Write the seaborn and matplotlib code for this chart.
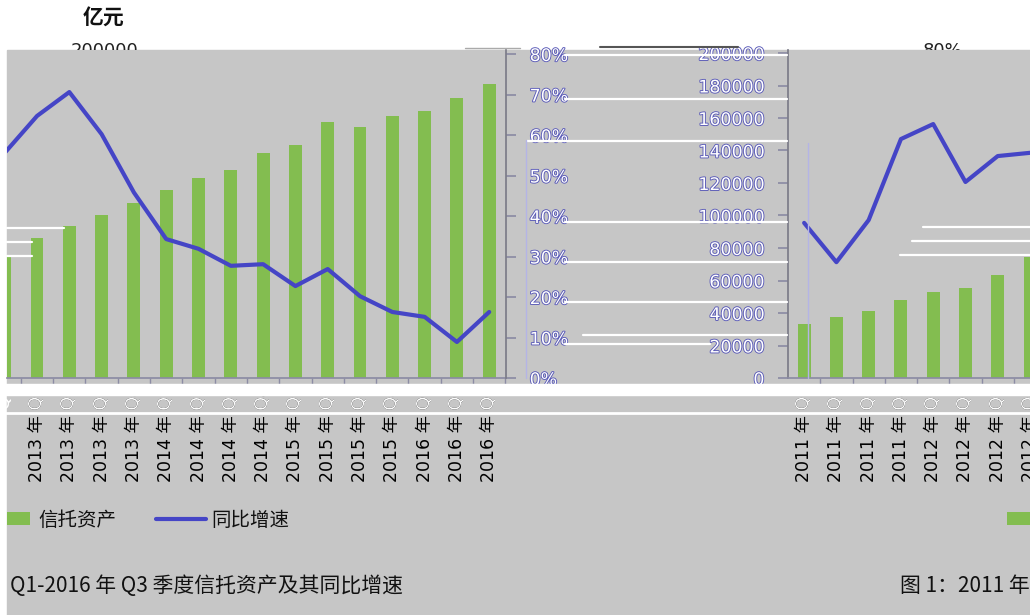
import numpy as np
import pandas as pd
import seaborn as sns
import matplotlib.pyplot as plt
import matplotlib.patheffects as pe
from matplotlib.lines import Line2D
from matplotlib.patches import Rectangle
from matplotlib.transforms import Bbox, offset_copy
from matplotlib.legend_handler import HandlerPatch

# ---- data ----
quarters = [
    "2011 年 Q1", "2011 年 Q2", "2011 年 Q3", "2011 年 Q4",
    "2012 年 Q1", "2012 年 Q2", "2012 年 Q3", "2012 年 Q4",
    "2013 年 Q1", "2013 年 Q2", "2013 年 Q3", "2013 年 Q4",
    "2014 年 Q1", "2014 年 Q2", "2014 年 Q3", "2014 年 Q4",
    "2015 年 Q1", "2015 年 Q2", "2015 年 Q3", "2015 年 Q4",
    "2016 年 Q1", "2016 年 Q2", "2016 年 Q3",
]
trust_assets = [33200, 37500, 41200, 48000, 52900, 55400, 63400, 74200,
                86200, 93500, 100300, 107700, 115700, 123100, 128000, 138500,
                143400, 157500, 154500, 161200, 164300, 172300, 180900]
yoy_growth = [38.3, 28.6, 39.0, 59.0, 62.7, 48.4, 54.8, 55.6,
              64.7, 70.6, 60.2, 45.8, 34.3, 31.9, 27.7, 28.1,
              22.7, 26.9, 20.2, 16.3, 15.1, 8.9, 16.3]
amount_ticks = [0, 20000, 40000, 60000, 80000, 100000,
                120000, 140000, 160000, 180000, 200000]
pct_ticks = [0, 10, 20, 30, 40, 50, 60, 70, 80]

W, H = 1030, 615
GRAY = "#c6c6c6"
GREEN = "#83bd50"
BLUE = "#4545c6"
SPINE = "#8c8ca4"
CJK = ["Noto Sans CJK SC", "DejaVu Sans"]
TICK_FS = 12.5
TICK_PAD = 5

sns.set_theme(style="white")
plt.rcParams["font.family"] = ["DejaVu Sans", "Noto Sans CJK SC"]


def fx(px):
    return px / W


def fy(py):
    return 1 - py / H


def hline(x0, x1, y, color="white", lw=1.6, z=6):
    fig.add_artist(Line2D([fx(x0), fx(x1)], [fy(y), fy(y)], transform=fig.transFigure,
                          color=color, lw=lw, zorder=z))


df = pd.DataFrame({"quarter": quarters, "assets": trust_assets, "growth": yoy_growth})
amount_top = 328 / 32.5 * 20000
pct_top = 328 / 40.5 * 10

fig = plt.figure(figsize=(W / 100, H / 100), dpi=100, facecolor="white")
fig.add_artist(Rectangle((fx(7), 0), 1 - fx(7), fy(50), transform=fig.transFigure,
                         color=GRAY, zorder=-10))

label_style = dict(color="white", fontsize=12.5,
                   path_effects=[pe.withStroke(linewidth=1.3, foreground="#5a5ab8")])


def panel(x0, x1, data, xlim, side):
    ax = fig.add_axes([fx(x0), fy(378), (x1 - x0) / W, 328 / H])
    sns.barplot(data=data, x="quarter", y="assets", color=GREEN, saturation=1,
                width=0.4, linewidth=0, ax=ax)
    ax.set_facecolor(GRAY)
    axp = ax.twinx()
    sns.lineplot(x=np.arange(len(data)), y=data["growth"].values, color=BLUE,
                 lw=3, ax=axp)
    for a in (ax, axp):
        a.set_xlabel("")
        a.set_ylabel("")
        for s in a.spines.values():
            s.set_visible(False)
    ax.set_ylim(0, amount_top)
    axp.set_ylim(0, pct_top)
    ax.set_xlim(*xlim)

    # x axis: labels at centres, short ticks at category boundaries
    ax.spines["bottom"].set_visible(True)
    ax.spines["bottom"].set_color(SPINE)
    ax.set_xticks(np.arange(len(data)))
    ax.set_xticklabels(data["quarter"], rotation=90, fontsize=TICK_FS, color="black")
    ax.set_xticks(np.arange(len(data)) + 0.5, minor=True)
    ax.tick_params(axis="x", which="major", length=0, pad=TICK_PAD)
    ax.tick_params(axis="x", which="minor", bottom=True, direction="out",
                   length=6, color=SPINE)

    # white part of the labels inside the glitch band
    tr = offset_copy(ax.get_xaxis_transform(), fig=fig, y=-TICK_PAD, units="points")
    for i, q in enumerate(data["quarter"]):
        if xlim[0] - 0.5 < i < xlim[1] + 0.5:
            t = fig.text(i, 0, q, transform=tr, rotation=90, ha="center", va="top",
                         fontsize=TICK_FS, color="white")
            t.set_clip_box(Bbox.from_extents(0, H - 413, W, H - 396))
            t.set_clip_on(True)

    if side == "right":
        axp.spines["right"].set_visible(True)
        axp.spines["right"].set_color("#7c7c88")
        axp.set_yticks(pct_ticks)
        axp.set_yticklabels([f"{v}%" for v in pct_ticks], **label_style)
        axp.tick_params(axis="y", right=True, labelright=True, direction="out",
                        length=7, pad=10, color=SPINE)
        ax.set_yticks([])
    else:
        ax.spines["left"].set_visible(True)
        ax.spines["left"].set_color("#7c7c88")
        ax.set_yticks(amount_ticks)
        ax.set_yticklabels([str(v) for v in amount_ticks], **label_style)
        ax.tick_params(axis="y", left=True, labelleft=True, direction="out",
                       length=7, pad=10, color=SPINE)
        axp.set_yticks([])
    ax.set_xlim(*xlim)
    return ax, axp


# later quarters on the left, first quarters wrapped round to the right
ax1, ax1p = panel(7, 506, df.iloc[7:].reset_index(drop=True), (0.07, 15.52), "right")
ax2, ax2p = panel(788, 1030, df.iloc[:8].reset_index(drop=True), (-0.5, 7.0), "left")

# top header
fig.text(fx(104), fy(18), "亿元", ha="center", va="center", fontsize=15,
         fontweight="bold", family=CJK, color="#111111")
for x, s in [(105, "200000"), (943, "80%")]:
    t = fig.text(fx(x), fy(56), s, ha="center", va="baseline", fontsize=13, color="#222222")
    t.set_clip_box(Bbox.from_extents(0, H - 50, W, H))
    t.set_clip_on(True)

# glitch bands and stray lines
fig.add_artist(Rectangle((0, fy(395)), 1, (395 - 384) / H, transform=fig.transFigure,
                         color="white", zorder=6))
hline(0, W, 413, lw=2)
hline(600, 738, 47, color="#555555", lw=1.5)
hline(465, 520, 48, color="#aaaaaa", lw=1)
for x0, x1, y in [(565, 787, 55), (565, 787, 99), (527, 787, 141), (565, 787, 222),
                  (565, 787, 262), (565, 787, 302), (583, 787, 335), (565, 710, 344),
                  (7, 64, 228), (7, 32, 242), (7, 32, 256),
                  (923, 1030, 227), (912, 1030, 241), (900, 1030, 255)]:
    hline(x0, x1, y)
for x, y0 in [(526, 140), (808, 143)]:
    fig.add_artist(Line2D([fx(x), fx(x)], [fy(y0), fy(378)], transform=fig.transFigure,
                          color="#b4b4e6", lw=1, zorder=6))

# legends
bar_handle = ax1.patches[0]
line_handle = ax1p.lines[0]
fs = 14
px_em = fs * 100 / 72
leg_kw = dict(frameon=False, loc="center left", borderpad=0, borderaxespad=0,
              prop=dict(family=CJK, size=fs), labelcolor="#111111")
rect_handler = {Rectangle: HandlerPatch()}
fig.legend([bar_handle], ["信托资产"], bbox_to_anchor=(fx(7), fy(520)),
           handlelength=23 / px_em, handleheight=12 / px_em, handletextpad=8 / px_em,
           handler_map=rect_handler, **leg_kw)
fig.legend([line_handle], ["同比增速"], bbox_to_anchor=(fx(156), fy(520)),
           handlelength=50 / px_em, handletextpad=5 / px_em, **leg_kw)
fig.legend([bar_handle], ["信托资产"], bbox_to_anchor=(fx(1007), fy(520)),
           handlelength=23 / px_em, handleheight=12 / px_em, handletextpad=8 / px_em,
           handler_map=rect_handler, **leg_kw)

# captions
fig.text(fx(10), fy(586), "Q1-2016 年 Q3 季度信托资产及其同比增速", ha="left",
         va="center", fontsize=15, family=CJK, color="#111111")
fig.text(fx(900), fy(586), "图 1：2011 年 Q1-2016 年 Q3 季度信托资产及其同比增速",
         ha="left", va="center", fontsize=15, family=CJK, color="#111111")

fig.savefig("out.png", dpi=100, facecolor="white")
